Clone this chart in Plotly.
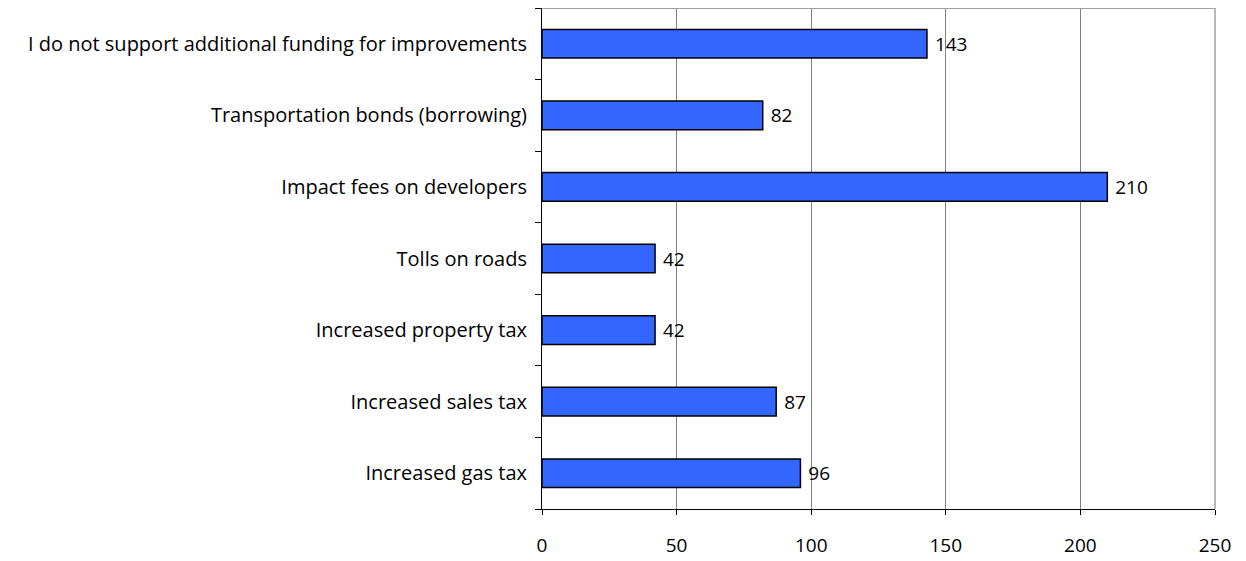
import plotly.graph_objects as go

categories = [
    "Increased gas tax",
    "Increased sales tax",
    "Increased property tax",
    "Tolls on roads",
    "Impact fees on developers",
    "Transportation bonds (borrowing)",
    "I do not support additional funding for improvements",
]
values = [96, 87, 42, 42, 210, 82, 143]
x_ticks = [0, 50, 100, 150, 200, 250]

FONT = "Open Sans, Liberation Sans, Arial, sans-serif"
FS = 20

fig = go.Figure(
    go.Bar(
        x=values,
        y=categories,
        orientation="h",
        marker=dict(color="#3366FF", line=dict(color="black", width=1.5)),
        text=[" " + str(v) for v in values],
        textposition="outside",
        textfont=dict(family=FONT, size=FS - 1, color="black"),
        cliponaxis=False,
    )
)

fig.update_layout(
    width=1246,
    height=561,
    margin=dict(l=534, r=39, t=0, b=60),
    paper_bgcolor="white",
    plot_bgcolor="white",
    bargap=0.6,
    showlegend=False,
    font=dict(family=FONT, size=FS, color="black"),
    xaxis=dict(
        range=[0, 250],
        tickvals=x_ticks,
        showgrid=True,
        gridcolor="#808080",
        gridwidth=1,
        showline=True,
        linecolor="black",
        linewidth=1,
        ticks="outside",
        ticklen=5,
        tickcolor="black",
        zeroline=False,
        ticklabelstandoff=14,
        tickfont=dict(family=FONT, size=FS - 1, color="black"),
    ),
    yaxis=dict(
        categoryorder="array",
        categoryarray=categories,
        showline=True,
        linecolor="black",
        linewidth=1,
        ticks="outside",
        tickson="boundaries",
        ticklen=6,
        tickcolor="black",
        showgrid=False,
        ticklabelstandoff=10,
        tickfont=dict(family=FONT, size=FS, color="black"),
    ),
    shapes=[
        dict(type="line", xref="paper", yref="paper", x0=0, x1=1, y0=1, y1=1,
             line=dict(color="#A0A0A0", width=2)),
        dict(type="line", xref="paper", yref="paper", x0=1, x1=1, y0=0, y1=1,
             line=dict(color="#A0A0A0", width=1.5)),
    ],
)

fig.write_html("out.html")
